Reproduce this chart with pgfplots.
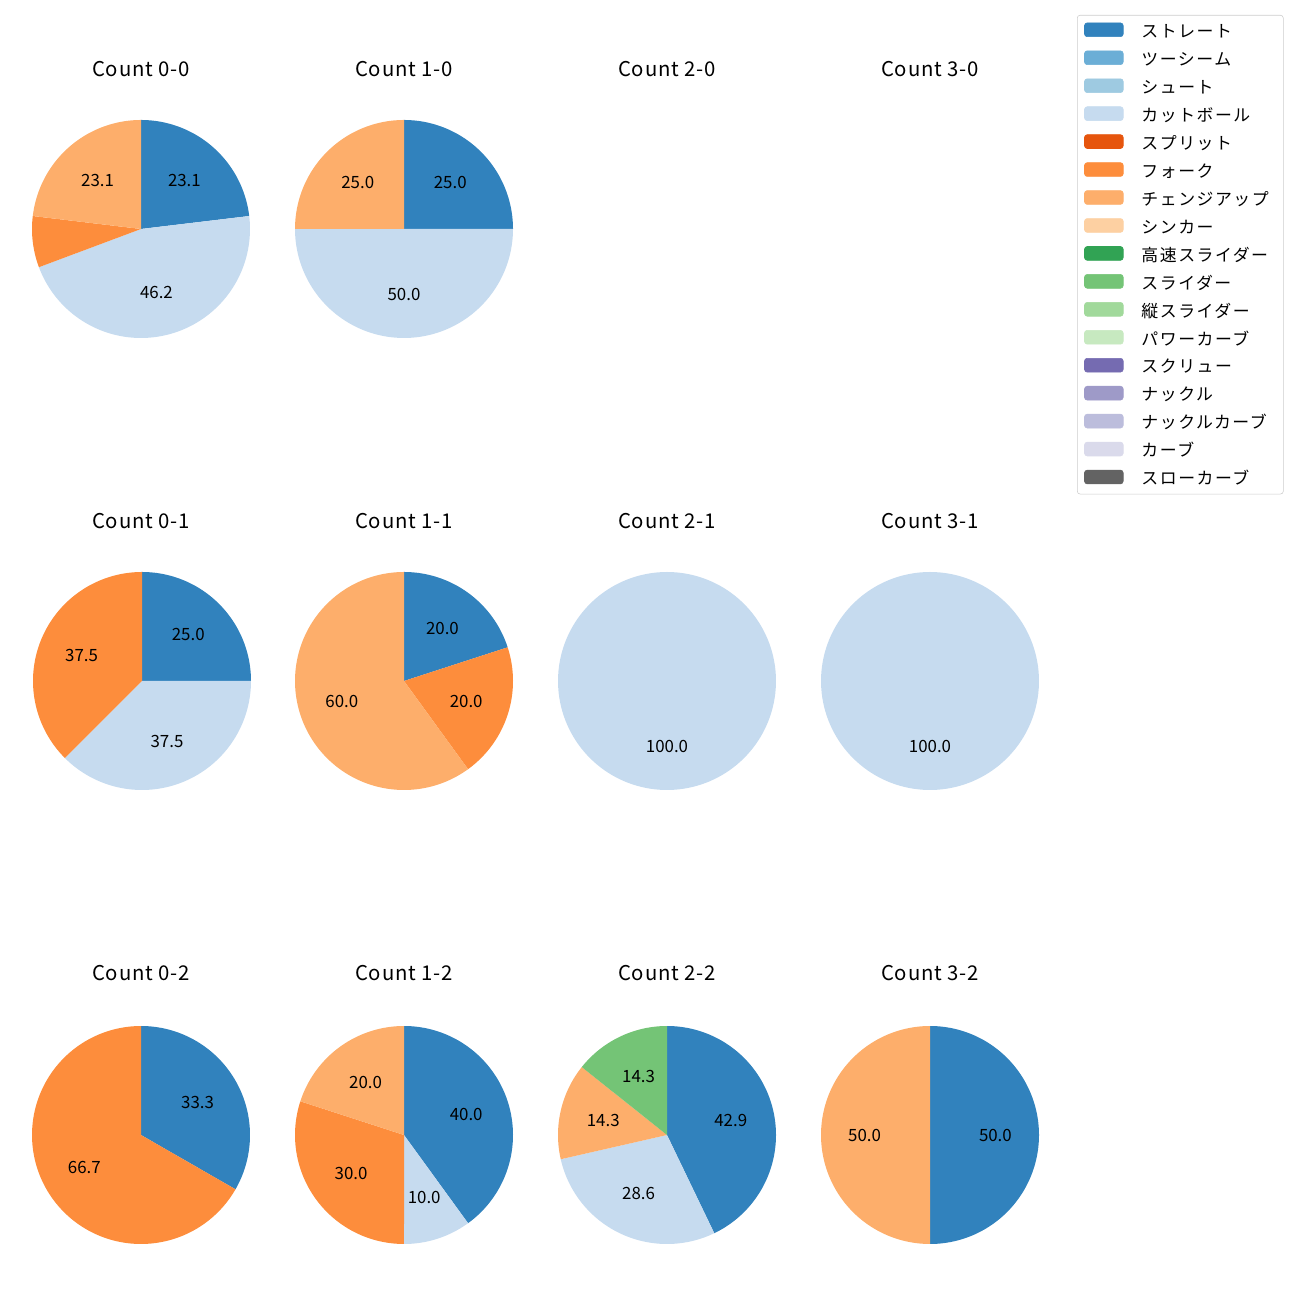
\documentclass[border=0pt]{standalone}
\usepackage{fontspec}
\setmainfont{Noto Sans CJK JP}
\newfontfamily\legfont[LetterSpace=9]{Noto Sans CJK JP}
\newfontfamily\ttlfont[LetterSpace=4]{Noto Sans CJK JP}
\usepackage{pgfplots}
\pgfplotsset{compat=1.18}
\definecolor{c1}{HTML}{3182BD}
\definecolor{c2}{HTML}{6BAED6}
\definecolor{c3}{HTML}{9ECAE1}
\definecolor{c4}{HTML}{C6DBEF}
\definecolor{c5}{HTML}{E6550D}
\definecolor{c6}{HTML}{FD8D3C}
\definecolor{c7}{HTML}{FDAE6B}
\definecolor{c8}{HTML}{FDD0A2}
\definecolor{c9}{HTML}{31A354}
\definecolor{c10}{HTML}{74C476}
\definecolor{c11}{HTML}{A1D99B}
\definecolor{c12}{HTML}{C7E9C0}
\definecolor{c13}{HTML}{756BB1}
\definecolor{c14}{HTML}{9E9AC8}
\definecolor{c15}{HTML}{BCBDDC}
\definecolor{c16}{HTML}{DADAEB}
\definecolor{c17}{HTML}{636363}
% wedge: colour, start %, end %
\newcommand{\pw}[3]{\addplot[fill=#1,draw=none,domain={90-3.6*(#3)}:{90-3.6*(#2)},samples=150] ({cos(x)},{sin(x)}) -- (axis cs:0,0) -- cycle;}
% label: start %, end %, text
\newcommand{\pl}[3]{\node[font=\fontsize{12.2}{14}\selectfont] at (axis cs:{0.6*cos(90-1.8*((#1)+(#2)))},{0.6*sin(90-1.8*((#1)+(#2)))}) {#3};}
\pgfplotsset{pie/.style={hide axis, scale only axis, width=2.18in, height=2.18in,
  xmin=-1, xmax=1, ymin=-1, ymax=1, anchor=center, clip=false}}
\newcommand{\ttl}[3]{\node[font=\ttlfont\fontsize{14.7}{17}\selectfont] at (#1in,#2in) {#3};}
\begin{document}
\begin{tikzpicture}
\path[use as bounding box] (0,0) rectangle (13in,13in);
% titles
\ttl{1.41}{12.31}{Count 0-0}
\ttl{4.04}{12.31}{Count 1-0}
\ttl{6.67}{12.31}{Count 2-0}
\ttl{9.30}{12.31}{Count 3-0}
\ttl{1.41}{7.79}{Count 0-1}
\ttl{4.04}{7.79}{Count 1-1}
\ttl{6.67}{7.79}{Count 2-1}
\ttl{9.30}{7.79}{Count 3-1}
\ttl{1.41}{3.27}{Count 0-2}
\ttl{4.04}{3.27}{Count 1-2}
\ttl{6.67}{3.27}{Count 2-2}
\ttl{9.30}{3.27}{Count 3-2}
% Count 0-0
\begin{axis}[pie, at={(1.41in,10.71in)}]
\pw{c1}{0}{23.1}\pl{0}{23.1}{23.1}
\pw{c4}{23.1}{69.3}\pl{23.1}{69.3}{46.2}
\pw{c6}{69.3}{76.9}
\pw{c7}{76.9}{100}\pl{76.9}{100}{23.1}
\end{axis}
% Count 1-0
\begin{axis}[pie, at={(4.04in,10.71in)}]
\pw{c1}{0}{25}\pl{0}{25}{25.0}
\pw{c4}{25}{75}\pl{25}{75}{50.0}
\pw{c7}{75}{100}\pl{75}{100}{25.0}
\end{axis}
% Count 0-1
\begin{axis}[pie, at={(1.42in,6.19in)}]
\pw{c1}{0}{25}\pl{0}{25}{25.0}
\pw{c4}{25}{62.5}\pl{25}{62.5}{37.5}
\pw{c6}{62.5}{100}\pl{62.5}{100}{37.5}
\end{axis}
% Count 1-1
\begin{axis}[pie, at={(4.04in,6.19in)}]
\pw{c1}{0}{20}\pl{0}{20}{20.0}
\pw{c6}{20}{40}\pl{20}{40}{20.0}
\pw{c7}{40}{100}\pl{40}{100}{60.0}
\end{axis}
% Count 2-1
\begin{axis}[pie, at={(6.67in,6.19in)}]
\pw{c4}{0}{100}\pl{0}{100}{100.0}
\end{axis}
% Count 3-1
\begin{axis}[pie, at={(9.30in,6.19in)}]
\pw{c4}{0}{100}\pl{0}{100}{100.0}
\end{axis}
% Count 0-2
\begin{axis}[pie, at={(1.41in,1.65in)}]
\pw{c1}{0}{33.3}\pl{0}{33.3}{33.3}
\pw{c6}{33.3}{100}\pl{33.3}{100}{66.7}
\end{axis}
% Count 1-2
\begin{axis}[pie, at={(4.04in,1.65in)}]
\pw{c1}{0}{40}\pl{0}{40}{40.0}
\pw{c4}{40}{50}\pl{40}{50}{10.0}
\pw{c6}{50}{80}\pl{50}{80}{30.0}
\pw{c7}{80}{100}\pl{80}{100}{20.0}
\end{axis}
% Count 2-2
\begin{axis}[pie, at={(6.67in,1.65in)}]
\pw{c1}{0}{42.86}\pl{0}{42.86}{42.9}
\pw{c4}{42.86}{71.43}\pl{42.86}{71.43}{28.6}
\pw{c7}{71.43}{85.71}\pl{71.43}{85.71}{14.3}
\pw{c10}{85.71}{100}\pl{85.71}{100}{14.3}
\end{axis}
% Count 3-2
\begin{axis}[pie, at={(9.30in,1.65in)}]
\pw{c1}{0}{50}\pl{0}{50}{50.0}
\pw{c7}{50}{100}\pl{50}{100}{50.0}
\end{axis}
% legend
\begin{axis}[hide axis, scale only axis, width=1in, height=1in,
  at={(10.77in,12.85in)}, anchor=north west,
  xmin=0, xmax=1, ymin=0, ymax=1,
  legend cell align=left,
  legend image code/.code={\fill[#1] (0pt,-4pt) rectangle (28pt,6pt); \path (41pt,1pt);},
  legend style={at={(0,1)}, anchor=north west, draw=black!20, rounded corners=2pt,
    fill=white, font=\legfont\fontsize{12.2}{14}\selectfont, row sep=8pt, column sep=0pt,
    inner xsep=5pt, inner ysep=5.3pt,
    nodes={inner sep=0pt, text height=10.6pt, text depth=1.4pt}}]
\addlegendimage{c1}\addlegendentry{ストレート}
\addlegendimage{c2}\addlegendentry{ツーシーム}
\addlegendimage{c3}\addlegendentry{シュート}
\addlegendimage{c4}\addlegendentry{カットボール}
\addlegendimage{c5}\addlegendentry{スプリット}
\addlegendimage{c6}\addlegendentry{フォーク}
\addlegendimage{c7}\addlegendentry{チェンジアップ\hspace*{5.5pt}}
\addlegendimage{c8}\addlegendentry{シンカー}
\addlegendimage{c9}\addlegendentry{高速スライダー}
\addlegendimage{c10}\addlegendentry{スライダー}
\addlegendimage{c11}\addlegendentry{縦スライダー}
\addlegendimage{c12}\addlegendentry{パワーカーブ}
\addlegendimage{c13}\addlegendentry{スクリュー}
\addlegendimage{c14}\addlegendentry{ナックル}
\addlegendimage{c15}\addlegendentry{ナックルカーブ}
\addlegendimage{c16}\addlegendentry{カーブ}
\addlegendimage{c17}\addlegendentry{スローカーブ}
\end{axis}
\end{tikzpicture}
\end{document}
